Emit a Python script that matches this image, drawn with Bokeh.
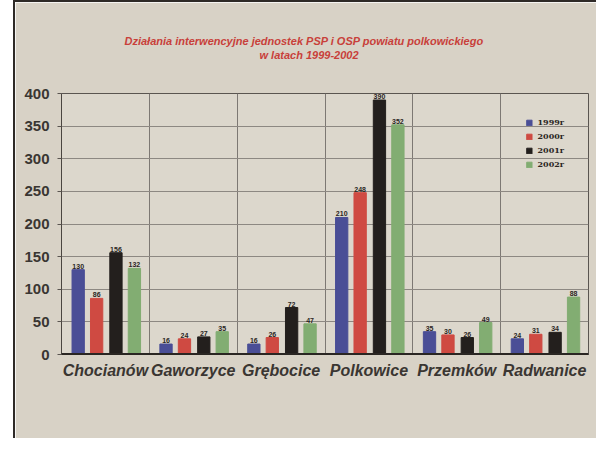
from bokeh.plotting import figure
from bokeh.models import ColumnDataSource, FixedTicker, Legend, LegendItem, Span, Title
from bokeh.core.properties import value
from bokeh.embed import file_html
from bokeh.resources import INLINE

categories = ["Chocianów", "Gaworzyce", "Grębocice", "Polkowice", "Przemków", "Radwanice"]
series_names = ["1999r", "2000r", "2001r", "2002r"]
v1999 = [130, 16, 16, 210, 35, 24]
v2000 = [86, 24, 26, 248, 30, 31]
v2001 = [156, 27, 72, 390, 26, 34]
v2002 = [132, 35, 47, 352, 49, 88]
y_ticks = [0, 50, 100, 150, 200, 250, 300, 350, 400]
title_lines = ["Działania interwencyjne jednostek PSP i OSP powiatu polkowickiego", "w latach 1999-2002"]

colors = ["#4a4e96", "#cf4a42", "#231f1d", "#82ad72"]
offsets = [-0.31, -0.10, 0.12, 0.33]
series = [v1999, v2000, v2001, v2002]

bg = "#d8d2c6"
p = figure(width=583, height=438, x_range=(0, 6), y_range=(0, 400),
           output_backend="svg", toolbar_location=None,
           min_border_left=46, min_border_right=10, min_border_top=91, min_border_bottom=86,
           background_fill_color="#dcd7cc", border_fill_color=bg)
p.styles = {"margin-left": "13px",
            "border-left": "2px solid #2e2a27", "border-top": "2px solid #2e2a27"}

centers = [i + 0.5 for i in range(len(categories))]
items = []
for name, vals, col, off in zip(series_names, series, colors, offsets):
    src = ColumnDataSource(dict(x=[c + off for c in centers], top=vals, lbl=[str(v) for v in vals]))
    r = p.vbar(x="x", top="top", width=0.14, source=src, fill_color=col, line_color=col)
    p.text(x="x", y="top", text="lbl", source=src, text_align="center", text_baseline="bottom",
           text_font=value("Liberation Sans"), text_font_style="bold", text_font_size="7px",
           text_color="#2a2623", y_offset=-1)
    items.append(LegendItem(label=name, renderers=[r]))

legend = Legend(items=items, location="top_right", margin=22, background_fill_alpha=0,
                border_line_alpha=0, glyph_width=7, glyph_height=7, label_height=9,
                spacing=4, label_text_font="DejaVu Serif", label_text_font_style="bold",
                label_text_font_size="8px", label_text_color="#2a2623", padding=2)
p.add_layout(legend)

# baseline
p.add_layout(Span(location=0, dimension="width", line_color="#2a2623", line_width=3))

p.xaxis.ticker = FixedTicker(ticks=centers)
p.xaxis.major_label_overrides = {c: n for c, n in zip(centers, categories)}
p.xaxis.major_label_text_font = "Liberation Sans"
p.xaxis.major_label_text_font_style = "bold italic"
p.xaxis.major_label_text_font_size = "16px"
p.xaxis.major_label_text_color = "#3a3632"
p.xaxis.major_tick_line_color = None
p.xaxis.minor_tick_line_color = None
p.xaxis.axis_line_color = "#2a2623"
p.xaxis.major_label_standoff = 1

p.yaxis.ticker = FixedTicker(ticks=y_ticks)
p.yaxis.major_label_text_font = "Liberation Sans"
p.yaxis.major_label_text_font_style = "bold"
p.yaxis.major_label_text_font_size = "15px"
p.yaxis.major_label_text_color = "#3a3632"
p.yaxis.major_tick_line_color = "#5a5550"
p.yaxis.major_tick_out = 4
p.yaxis.major_tick_in = 0
p.yaxis.minor_tick_line_color = None
p.yaxis.axis_line_color = "#4a4540"
p.yaxis.major_label_standoff = 8

p.ygrid.ticker = FixedTicker(ticks=y_ticks)
p.ygrid.grid_line_color = "#8d8882"
p.xgrid.ticker = FixedTicker(ticks=[1, 2, 3, 4, 5])
p.xgrid.grid_line_color = "#7d7873"
p.outline_line_color = "#5a5550"

# spacer panel next to the frame, then the two title lines outward
p.add_layout(Title(text=" ", text_font_size="28px", standoff=0), "above")
for line, off in zip(reversed(title_lines), [198, 63]):
    p.add_layout(Title(text=line, align="left", offset=off, standoff=0,
                       text_font="Liberation Sans", text_font_style="bold italic",
                       text_font_size="11px", text_color="#c8403a"), "above")

open("out.html", "w").write(file_html(p, INLINE))
